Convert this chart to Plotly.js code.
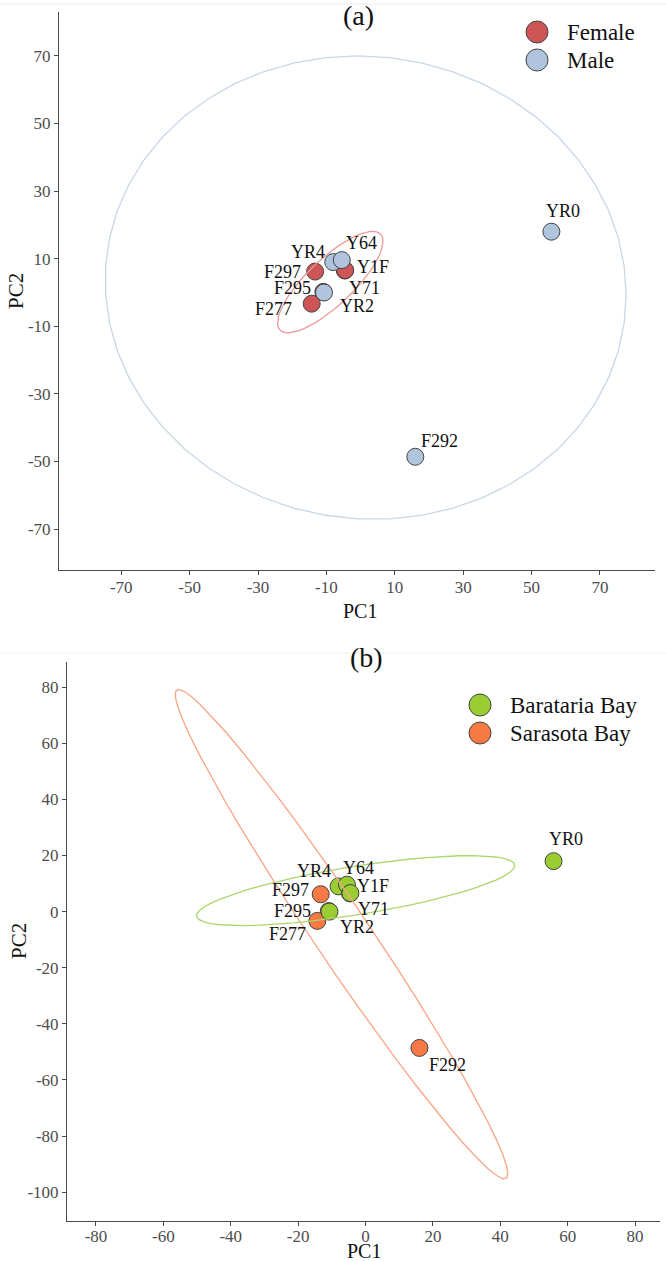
<!DOCTYPE html>
<html>
<head>
<meta charset="utf-8">
<script src="https://cdn.plot.ly/plotly-3.0.1.min.js"></script>
<style>
  html, body { margin: 0; padding: 0; background: #ffffff; }
  #chart { width: 666px; height: 1261px; }
</style>
</head>
<body>
<div id="chart"></div>
<script>
// PCA scores for each dolphin sample
const samples = ["YR4", "Y64", "F297", "Y71", "Y1F", "F295", "F277", "YR2", "YR0", "F292"];
const pc1 = [-8.0, -5.5, -13.3, -4.6, -4.5, -10.9, -14.3, -10.7, 55.8, 16.0];
const pc2 = [9.0, 9.6, 6.2, 6.5, 6.6, 0.2, -3.3, 0.0, 18.0, -48.6];
const sex = ["Male", "Male", "Female", "Female", "Female", "Female", "Female", "Male", "Male", "Male"];
const site = ["Barataria Bay", "Barataria Bay", "Sarasota Bay", "Barataria Bay", "Barataria Bay",
              "Sarasota Bay", "Sarasota Bay", "Barataria Bay", "Barataria Bay", "Sarasota Bay"];

const sexLevels = ["Female", "Male"];
const siteLevels = ["Barataria Bay", "Sarasota Bay"];

// tick labels
const ticksA = [-70, -50, -30, -10, 10, 30, 50, 70];
const ticksBx = [-80, -60, -40, -20, 0, 20, 40, 60, 80];
const ticksBy = [-100, -80, -60, -40, -20, 0, 20, 40, 60, 80];

// styling
const FONT = '"Liberation Serif", "Times New Roman", serif';
const sexFill = { "Female": "#CD5555", "Male": "#B0C4DE" };
const sexLine = { "Female": "#EE9A98", "Male": "#C9D6E8" };
const siteFill = { "Barataria Bay": "#9ACD32", "Sarasota Bay": "#F77A45" };
const siteLine = { "Barataria Bay": "#A9D86B", "Sarasota Bay": "#F9A586" };

// label placement (pixel offsets from each point)
const offA = { YR4: [-25, -10], Y64: [20, -17], F297: [-33, 0], Y1F: [28, -3], F295: [-31, -4],
               Y71: [20, 17], F277: [-38, 5], YR2: [33, 13], YR0: [12, -21], F292: [24, -16] };
const offB = { YR4: [-25, -15], Y64: [12, -17], F297: [-30, -4], Y1F: [23, -7], F295: [-36, 0],
               Y71: [23, 16], F277: [-30, 13], YR2: [28, 15], YR0: [12, -22], F292: [28, 17] };

// Robust multivariate t covariance (as in MASS::cov.trob, nu = 5)
function covTrob(xs, ys) {
  const n = xs.length, p = 2, nu = 5;
  let loc = [xs.reduce((a, b) => a + b, 0) / n, ys.reduce((a, b) => a + b, 0) / n];
  let w = new Array(n).fill(1);
  let X = [];
  for (let iter = 0; iter < 25; iter++) {
    const w0 = w.slice();
    X = xs.map((x, i) => [x - loc[0], ys[i] - loc[1]]);
    const sw = w.reduce((a, b) => a + b, 0);
    let s11 = 0, s12 = 0, s22 = 0;
    for (let i = 0; i < n; i++) {
      s11 += w[i] * X[i][0] * X[i][0] / sw;
      s12 += w[i] * X[i][0] * X[i][1] / sw;
      s22 += w[i] * X[i][1] * X[i][1] / sw;
    }
    const det = s11 * s22 - s12 * s12;
    const Q = X.map(d => (s22 * d[0] * d[0] - 2 * s12 * d[0] * d[1] + s11 * d[1] * d[1]) / det);
    w = Q.map(q => (nu + p) / (nu + q));
    const sw2 = w.reduce((a, b) => a + b, 0);
    loc = [w.reduce((a, wi, i) => a + wi * xs[i], 0) / sw2,
           w.reduce((a, wi, i) => a + wi * ys[i], 0) / sw2];
    if (w.every((wi, i) => Math.abs(wi - w0[i]) < 0.01)) break;
  }
  let c11 = 0, c12 = 0, c22 = 0;
  for (let i = 0; i < n; i++) {
    c11 += w[i] * X[i][0] * X[i][0] / n;
    c12 += w[i] * X[i][0] * X[i][1] / n;
    c22 += w[i] * X[i][1] * X[i][1] / n;
  }
  return { center: loc, cov: [[c11, c12], [c12, c22]] };
}

// 95% confidence ellipse of a group
function ellipse(xs, ys, level = 0.95, segments = 51) {
  const v = covTrob(xs, ys);
  const dfd = xs.length - 1;
  const qf = dfd / 2 * (Math.pow(1 - level, -2 / dfd) - 1);   // F(2, dfd) quantile
  const r = Math.sqrt(2 * qf);
  const a = Math.sqrt(v.cov[0][0]);
  const b = v.cov[0][1] / a;
  const c = Math.sqrt(v.cov[1][1] - b * b);
  const ex = [], ey = [];
  for (let k = 0; k <= segments; k++) {
    const t = 2 * Math.PI * k / segments;
    ex.push(v.center[0] + r * a * Math.cos(t));
    ey.push(v.center[1] + r * (b * Math.cos(t) + c * Math.sin(t)));
  }
  return { x: ex, y: ey };
}

function pick(arr, groups, level) {
  return arr.filter((_, i) => groups[i] === level);
}

const traces = [];
const annotations = [];
const shapes = [];

function addPanel(groups, drawOrder, fills, lines, xa, ya, offsets) {
  // points
  drawOrder.forEach(lv => {
    traces.push({
      type: "scatter", mode: "markers", xaxis: xa, yaxis: ya,
      x: pick(pc1, groups, lv), y: pick(pc2, groups, lv),
      text: pick(samples, groups, lv), hoverinfo: "text", showlegend: false,
      marker: { size: 17, color: fills[lv], line: { color: "#444444", width: 1 } }
    });
  });
  // ellipses
  drawOrder.forEach(lv => {
    const e = ellipse(pick(pc1, groups, lv), pick(pc2, groups, lv));
    traces.push({
      type: "scatter", mode: "lines", xaxis: xa, yaxis: ya, x: e.x, y: e.y,
      hoverinfo: "skip", showlegend: false,
      line: { color: lines[lv], width: 1.3 }
    });
  });
  // sample labels
  samples.forEach((s, i) => {
    annotations.push({
      xref: xa, yref: ya, x: pc1[i], y: pc2[i], text: s, showarrow: false,
      xshift: offsets[s][0], yshift: -offsets[s][1],
      font: { family: FONT, size: 18, color: "#111111" }
    });
  });
}

addPanel(sex, sexLevels, sexFill, sexLine, "x", "y", offA);
addPanel(site, ["Sarasota Bay", "Barataria Bay"], siteFill, siteLine, "x2", "y2", offB);

const H = 1261, W = 666;
const py = v => 1 - v / H;
const px = v => v / W;

// legends
function legendItem(cx, cy, color, label) {
  shapes.push({
    type: "circle", xref: "paper", yref: "paper", xsizemode: "pixel", ysizemode: "pixel",
    xanchor: px(cx), yanchor: py(cy), x0: -11, x1: 11, y0: -11, y1: 11,
    fillcolor: color, line: { color: "#444444", width: 1 }
  });
  annotations.push({
    xref: "paper", yref: "paper", x: px(cx + 28), y: py(cy), xanchor: "left", yanchor: "middle",
    text: label, showarrow: false, font: { family: FONT, size: 23, color: "#111111" }
  });
}
legendItem(537, 32, sexFill["Female"], "Female");
legendItem(537, 60, sexFill["Male"], "Male");
legendItem(480, 705, siteFill["Barataria Bay"], "Barataria Bay");
legendItem(480, 733, siteFill["Sarasota Bay"], "Sarasota Bay");

// panel titles and axis titles
function label(x, y, text, size, angle) {
  annotations.push({ xref: "paper", yref: "paper", x: px(x), y: py(y), text: text, showarrow: false,
    xanchor: "center", yanchor: "middle", textangle: angle || 0,
    font: { family: FONT, size: size, color: "#111111" } });
}
label(358, 16, "(a)", 28);
label(366, 657, "(b)", 28);
label(360, 611, "PC1", 20);
label(16, 291, "PC2", 21, -90);
label(364, 1251, "PC1", 20);
label(19, 941, "PC2", 21, -90);

// faint frame rules between the two figures
shapes.push({ type: "line", xref: "paper", yref: "paper", x0: 0, x1: 1, y0: py(4), y1: py(4),
  line: { color: "#ececec", width: 1 } });
shapes.push({ type: "line", xref: "paper", yref: "paper", x0: 0, x1: 1, y0: py(653), y1: py(653),
  line: { color: "#f0f0f0", width: 1 } });

const axisBase = {
  showgrid: false, zeroline: false, showline: true, linecolor: "#4a4a4a", linewidth: 1,
  ticks: "outside", ticklen: 4, tickcolor: "#4a4a4a", tickwidth: 1,
  tickfont: { family: FONT, size: 17, color: "#4d4d4d" }, fixedrange: true
};
const tickText = vals => vals.map(v => String(v));

const layout = {
  width: W, height: H, margin: { l: 0, r: 0, t: 0, b: 0 },
  paper_bgcolor: "#ffffff", plot_bgcolor: "#ffffff", showlegend: false,
  xaxis: Object.assign({}, axisBase, {
    domain: [px(59), px(655)], range: [-88.2, 86.1], anchor: "y",
    tickvals: ticksA, ticktext: tickText(ticksA), ticklabelstandoff: -2
  }),
  yaxis: Object.assign({}, axisBase, {
    domain: [py(570), py(12)], range: [-82.1, 83.0], anchor: "x",
    tickvals: ticksA, ticktext: tickText(ticksA)
  }),
  xaxis2: Object.assign({}, axisBase, {
    domain: [px(67), px(660)], range: [-88.6, 87.4], anchor: "y2",
    tickvals: ticksBx, ticktext: tickText(ticksBx), ticklabelstandoff: -4
  }),
  yaxis2: Object.assign({}, axisBase, {
    domain: [py(1221), py(662)], range: [-110.3, 89.0], anchor: "x2",
    tickvals: ticksBy, ticktext: tickText(ticksBy)
  }),
  annotations: annotations,
  shapes: shapes
};

Plotly.newPlot("chart", traces, layout, { displayModeBar: false, staticPlot: true });
</script>
</body>
</html>
